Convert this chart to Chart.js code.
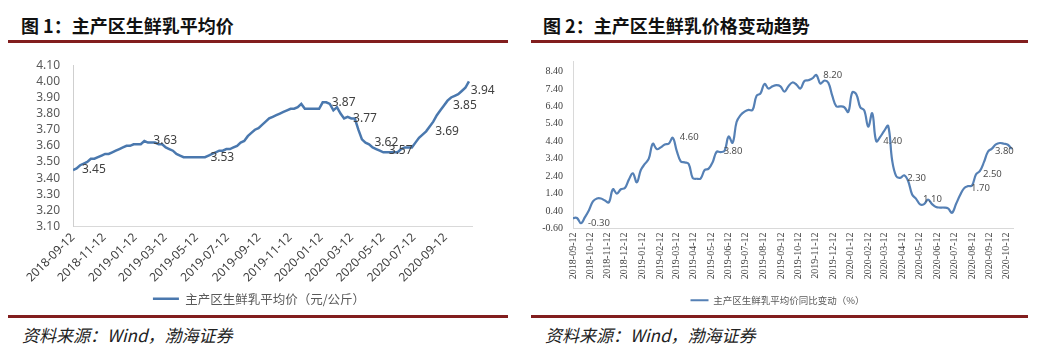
<!DOCTYPE html>
<html><head><meta charset="utf-8">
<script src="https://cdn.jsdelivr.net/npm/chart.js@4.4.1/dist/chart.umd.min.js"></script>
<style>
body{margin:0;background:#fff;width:1044px;height:357px;position:relative;overflow:hidden;font-family:"Noto Sans CJK SC",sans-serif;}
.title{position:absolute;top:14px;font-weight:bold;font-size:18px;color:#111;white-space:nowrap;line-height:22px}
.rule{position:absolute;height:3px;background:#821e1e}
.src{position:absolute;top:324px;font-style:italic;font-size:17px;color:#222;line-height:22px;white-space:nowrap}
canvas{position:absolute}
</style></head>
<body>
<div class="title" style="left:21px">图 1：主产区生鲜乳平均价</div>
<div class="title" style="left:543px">图 2：主产区生鲜乳价格变动趋势</div>
<div class="rule" style="left:8px;width:500px;top:40px"></div>
<div class="rule" style="left:531px;width:497px;top:40px"></div>
<canvas id="c1" width="515" height="270" style="left:0;top:45px"></canvas>
<canvas id="c2" width="515" height="270" style="left:520px;top:45px"></canvas>
<div class="rule" style="left:8px;width:500px;top:315px"></div>
<div class="rule" style="left:531px;width:497px;top:315px"></div>
<div class="src" style="left:22px">资料来源：Wind，渤海证券</div>
<div class="src" style="left:545px">资料来源：Wind，渤海证券</div>
<script>
const weekDates = [
'2018-09-12','2018-09-19','2018-09-26','2018-10-03','2018-10-10','2018-10-17','2018-10-24','2018-10-31','2018-11-07','2018-11-14','2018-11-21','2018-11-28','2018-12-05','2018-12-12','2018-12-19','2018-12-26',
'2019-01-02','2019-01-09','2019-01-16','2019-01-23','2019-01-30','2019-02-06','2019-02-13','2019-02-20','2019-02-27','2019-03-06','2019-03-13','2019-03-20','2019-03-27','2019-04-03','2019-04-10','2019-04-17','2019-04-24','2019-05-01','2019-05-08','2019-05-15','2019-05-22','2019-05-29','2019-06-05','2019-06-12','2019-06-19','2019-06-26','2019-07-03','2019-07-10','2019-07-17','2019-07-24','2019-07-31','2019-08-07','2019-08-14','2019-08-21','2019-08-28','2019-09-04','2019-09-11','2019-09-18','2019-09-25','2019-10-02','2019-10-09','2019-10-16','2019-10-23','2019-10-30','2019-11-06','2019-11-13','2019-11-20','2019-11-27','2019-12-04','2019-12-11','2019-12-18','2019-12-25',
'2020-01-01','2020-01-08','2020-01-15','2020-01-22','2020-01-29','2020-02-05','2020-02-12','2020-02-19','2020-02-26','2020-03-04','2020-03-11','2020-03-18','2020-03-25','2020-04-01','2020-04-08','2020-04-15','2020-04-22','2020-04-29','2020-05-06','2020-05-13','2020-05-20','2020-05-27','2020-06-03','2020-06-10','2020-06-17','2020-06-24','2020-07-01','2020-07-08','2020-07-15','2020-07-22','2020-07-29','2020-08-05','2020-08-12','2020-08-19','2020-08-26','2020-09-02','2020-09-09','2020-09-16','2020-09-23','2020-09-30','2020-10-07','2020-10-14','2020-10-21','2020-10-28'
];
const leftValues = [
3.45,3.46,3.48,3.49,3.50,3.52,3.52,3.53,3.54,3.55,
3.55,3.56,3.57,3.58,3.59,3.60,3.60,3.61,3.61,3.61,
3.63,3.62,3.62,3.62,3.61,3.61,3.59,3.58,3.57,3.55,
3.54,3.53,3.53,3.53,3.53,3.53,3.53,3.53,3.54,3.55,
3.56,3.57,3.57,3.58,3.58,3.59,3.60,3.62,3.63,3.66,
3.68,3.70,3.71,3.73,3.75,3.77,3.78,3.79,3.80,3.81,
3.82,3.83,3.83,3.84,3.86,3.83,3.83,3.83,3.83,3.83,
3.87,3.87,3.86,3.82,3.84,3.80,3.77,3.78,3.77,3.77,
3.70,3.64,3.62,3.61,3.59,3.58,3.57,3.56,3.56,3.56,
3.56,3.56,3.58,3.59,3.59,3.59,3.62,3.65,3.67,3.69,
3.72,3.75,3.79,3.82,3.85,3.88,3.90,3.91,3.92,3.94,
3.96,4.00
];
const rightValues = [
0.00,0.00,-0.30,0.05,0.45,0.95,1.12,1.12,1.00,0.90,
1.65,1.40,1.65,1.72,2.20,2.56,2.05,2.75,3.10,3.40,
4.26,3.95,4.05,4.22,4.26,4.60,3.85,3.25,3.19,3.10,
2.30,2.25,2.27,2.75,2.83,3.20,3.80,3.78,3.85,4.67,
4.31,5.50,5.90,6.10,6.20,6.19,7.00,7.15,7.69,7.42,
7.55,7.62,7.55,7.24,7.55,7.77,7.65,7.42,7.85,7.90,
8.00,8.20,7.70,7.88,7.75,7.00,6.40,6.40,6.35,6.08,
7.20,7.10,6.35,6.17,5.24,6.00,4.40,4.65,5.00,5.28,
3.30,2.40,2.30,2.45,2.12,1.35,1.10,0.78,0.80,1.05,
0.80,0.63,0.60,0.60,0.55,0.30,0.80,1.30,1.70,1.83,
1.86,2.50,2.70,3.20,3.80,3.98,4.22,4.30,4.26,4.20,
3.95
];
const leftTickDates = ['2018-09-12','2018-11-12','2019-01-12','2019-03-12','2019-05-12','2019-07-12','2019-09-12','2019-11-12','2020-01-12','2020-03-12','2020-05-12','2020-07-12','2020-09-12'];
const rightTickDates = ['2018-09-12','2018-10-12','2018-11-12','2018-12-12','2019-01-12','2019-02-12','2019-03-12','2019-04-12','2019-05-12','2019-06-12','2019-07-12','2019-08-12','2019-09-12','2019-10-12','2019-11-12','2019-12-12','2020-01-12','2020-02-12','2020-03-12','2020-04-12','2020-05-12','2020-06-12','2020-07-12','2020-08-12','2020-09-12','2020-10-12'];
const leftYTicks = [3.10,3.20,3.30,3.40,3.50,3.60,3.70,3.80,3.90,4.00,4.10];
const rightYTicks = [-0.60,0.40,1.40,2.40,3.40,4.40,5.40,6.40,7.40,8.40];
const leftLabelIdx = [0,20,36,70,76,82,86,99,104,109];
const rightLabelIdx = [2,25,36,61,76,82,86,98,101,104];
const leftLegend = '主产区生鲜乳平均价（元/公斤）';
const rightLegend = '主产区生鲜乳平均价同比变动（%）';

const t0 = Date.parse(weekDates[0]);
const dayOf = s => (Date.parse(s) - t0) / 86400000;

const pointLabelPlugin = {
  id: 'pointLabels',
  afterDatasetsDraw(chart, args, opts) {
    const meta = chart.getDatasetMeta(0);
    const ds = chart.data.datasets[0];
    const ctx = chart.ctx;
    ctx.save();
    ctx.font = opts.font;
    ctx.fillStyle = opts.color;
    ctx.textAlign = 'left';
    ctx.textBaseline = 'middle';
    (opts.indices || []).forEach(i => {
      const el = meta.data[i];
      if (!el) return;
      ctx.fillText(ds.data[i].y.toFixed(2), el.x + opts.offset, el.y);
    });
    ctx.restore();
  }
};

// shifts the bottom legend box horizontally after layout
const legendShiftPlugin = {
  id: 'legendShift',
  afterLayout(chart, args, opts) {
    if (chart.legend && opts.dx) {
      chart.legend.left += opts.dx;
      chart.legend.right += opts.dx;
    }
  }
};

new Chart(document.getElementById('c1'), {
  type: 'line',
  data: { datasets: [{
    label: leftLegend,
    data: leftValues.map((v, i) => ({ x: dayOf(weekDates[i]), y: v })),
    borderColor: '#4A78AE', backgroundColor: '#4A78AE', borderWidth: 2.5,
    pointRadius: 0, tension: 0, pointStyle: 'line'
  }]},
  options: {
    responsive: false, animation: false, events: [],
    layout: { padding: { left: 0, right: 43, top: 11, bottom: 0 } },
    plugins: {
      legend: { position: 'bottom', labels: { usePointStyle: true, pointStyle: 'line', pointStyleWidth: 26, color: '#595959', font: { size: 12.5, family: '"Noto Sans CJK SC"' }, padding: 10 } },
      tooltip: { enabled: false },
      legendShift: { dx: 23 },
      pointLabels: { indices: leftLabelIdx, offset: 9, font: '12px "Noto Sans"', color: '#404040' }
    },
    scales: {
      x: { type: 'linear', min: 0, max: 783,
        grid: { display: false, drawTicks: false },
        border: { display: true, color: '#d9d9d9', width: 1 },
        afterBuildTicks: s => { s.ticks = leftTickDates.map(d => ({ value: dayOf(d) })); },
        afterFit: s => { s.height = 56; },
        ticks: { autoSkip: false, minRotation: 45, maxRotation: 45, padding: 4, color: '#404040',
          font: { size: 12, family: '"Noto Sans"' }, callback: (v, i) => leftTickDates[i] } },
      y: { min: 3.1, max: 4.1,
        grid: { display: false, drawTicks: false },
        border: { display: true, color: '#cfcfcf', width: 1 },
        afterBuildTicks: s => { s.ticks = leftYTicks.map(v => ({ value: v })); },
        afterFit: s => { s.width = 73; },
        ticks: { autoSkip: false, padding: 13, color: '#595959', font: { size: 12, family: '"Noto Sans"' }, callback: v => Number(v).toFixed(2) } }
    }
  },
  plugins: [pointLabelPlugin, legendShiftPlugin]
});

new Chart(document.getElementById('c2'), {
  type: 'line',
  data: { datasets: [{
    label: rightLegend,
    data: rightValues.map((v, i) => ({ x: dayOf(weekDates[i]), y: v })),
    borderColor: '#5580B5', backgroundColor: '#5580B5', borderWidth: 2.2,
    pointRadius: 0, tension: 0.4, pointStyle: 'line'
  }]},
  options: {
    responsive: false, animation: false, events: [],
    layout: { padding: { left: 0, right: 22, top: 5, bottom: 0 } },
    plugins: {
      legend: { position: 'bottom', labels: { usePointStyle: true, pointStyle: 'line', pointStyleWidth: 18, color: '#595959', font: { size: 9.5, family: '"Noto Sans CJK SC"' }, padding: 10 } },
      tooltip: { enabled: false },
      legendShift: { dx: 11 },
      pointLabels: { indices: rightLabelIdx, offset: 7, font: '9.5px "Noto Sans"', color: '#505050' }
    },
    scales: {
      x: { type: 'linear', min: 0, max: 772,
        grid: { display: false, drawTicks: false },
        border: { display: true, color: '#d9d9d9', width: 1 },
        afterBuildTicks: s => { s.ticks = rightTickDates.map(d => ({ value: dayOf(d) })); },
        afterFit: s => { s.height = 57; },
        ticks: { autoSkip: false, minRotation: 90, maxRotation: 90, padding: 4, color: '#404040',
          font: { size: 10, family: '"Liberation Serif"' }, callback: (v, i) => rightTickDates[i] } },
      y: { min: -0.6, max: 9.0,
        grid: { display: false, drawTicks: false },
        border: { display: true, color: '#d9d9d9', width: 1 },
        afterBuildTicks: s => { s.ticks = rightYTicks.map(v => ({ value: v })); },
        afterFit: s => { s.width = 53; },
        ticks: { autoSkip: false, padding: 10, color: '#404040', font: { size: 10, family: '"Liberation Serif"' }, callback: v => Number(v).toFixed(2) } }
    }
  },
  plugins: [pointLabelPlugin, legendShiftPlugin]
});
</script>
</body></html>
